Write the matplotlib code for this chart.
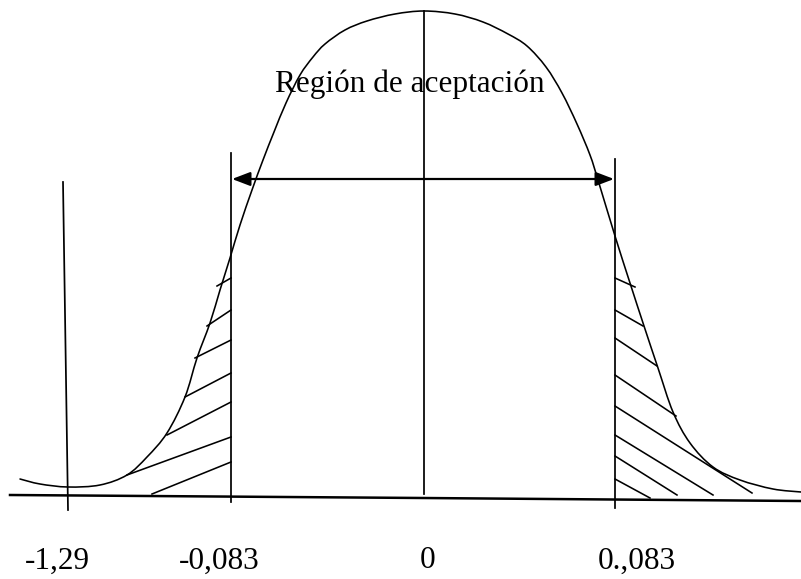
import matplotlib
matplotlib.use("Agg")
import matplotlib.pyplot as plt
from matplotlib.path import Path
from matplotlib.patches import PathPatch

# ---- data (drawing coordinates: pixels, y grows downward) ----
curve_x = [20, 40, 68, 100, 127, 147, 167, 185, 197, 210, 220, 230, 240, 252, 263,
           274, 286, 300, 313, 325, 345, 367, 395, 424, 455, 483, 508, 527, 546,
           562, 577, 590, 598, 615, 630, 644, 658, 673, 690, 713, 740, 773, 801]
curve_y = [479, 484, 487, 485, 475, 457, 433, 397, 358, 323, 290, 258, 225, 190, 160,
           132, 103, 75, 57, 44, 30, 21, 14, 11, 14, 22, 34, 46, 67,
           93, 124, 155, 180, 236, 283, 326, 368, 412, 443, 467, 480, 489, 492]

baseline_x = [10, 423, 801]
baseline_y = [495, 498, 501]

# vertical lines: (x_top, y_top, x_bottom, y_bottom)
vline_x_top = [63, 231, 424, 615]
vline_y_top = [182, 153, 11, 159]
vline_x_bot = [68, 231, 424, 615]
vline_y_bot = [510, 502, 494, 508]

# hatching, left tail
hl_x0 = 231
hl_y0 = [278, 310, 340, 373, 402, 437, 462]
hl_x1 = [217, 207, 195, 185, 167, 127, 152]
hl_y1 = [286, 326, 358, 397, 435, 475, 494]

# hatching, right tail
hr_x0 = 615
hr_y0 = [278, 310, 338, 375, 406, 435, 456, 479]
hr_x1 = [635, 643, 657, 676, 752, 713, 677, 650]
hr_y1 = [287, 326, 366, 416, 493, 495, 495, 498]

arrow_x = [232, 614]
arrow_y = 179

title_text = "Región de aceptación"
title_pos = (410, 84)

tick_labels = ["-1,29", "-0,083", "0", "0.,083"]
tick_label_x = [57, 219, 428, 637]
tick_label_y = 561


def smooth_path(xs, ys):
    """Catmull-Rom through the given points, expressed as cubic Bezier path."""
    pts = list(zip(xs, ys))
    n = len(pts)
    verts = [pts[0]]
    codes = [Path.MOVETO]
    for i in range(n - 1):
        p0 = pts[i - 1] if i > 0 else pts[i]
        p1 = pts[i]
        p2 = pts[i + 1]
        p3 = pts[i + 2] if i + 2 < n else pts[i + 1]
        c1 = (p1[0] + (p2[0] - p0[0]) / 6.0, p1[1] + (p2[1] - p0[1]) / 6.0)
        c2 = (p2[0] - (p3[0] - p1[0]) / 6.0, p2[1] - (p3[1] - p1[1]) / 6.0)
        verts += [c1, c2, p2]
        codes += [Path.CURVE4, Path.CURVE4, Path.CURVE4]
    return Path(verts, codes)


# ---- figure ----
fig = plt.figure(figsize=(8.01, 5.79), dpi=100)
ax = fig.add_axes([0, 0, 1, 1])
ax.set_xlim(0, 801)
ax.set_ylim(579, 0)
ax.axis("off")

lw = 1.15
ax.add_patch(PathPatch(smooth_path(curve_x, curve_y), fill=False,
                       edgecolor="black", lw=lw, joinstyle="round", capstyle="round"))
ax.plot(baseline_x, baseline_y, color="black", lw=1.8)

for xt, yt, xb, yb in zip(vline_x_top, vline_y_top, vline_x_bot, vline_y_bot):
    ax.plot([xt, xb], [yt, yb], color="black", lw=1.25)

for y0, x1, y1 in zip(hl_y0, hl_x1, hl_y1):
    ax.plot([hl_x0, x1], [y0, y1], color="black", lw=lw)
for y0, x1, y1 in zip(hr_y0, hr_x1, hr_y1):
    ax.plot([hr_x0, x1], [y0, y1], color="black", lw=lw)

ax.annotate("", xy=(arrow_x[0], arrow_y), xytext=(arrow_x[1], arrow_y),
            arrowprops=dict(arrowstyle="<|-|>,head_length=1.1,head_width=0.42",
                            color="black", lw=1.6, shrinkA=0, shrinkB=0,
                            mutation_scale=10))

serif = ["Liberation Serif", "DejaVu Serif"]
ax.text(title_pos[0], title_pos[1], title_text, family=serif, fontsize=22.5,
        ha="center", va="center", color="black")

for lab, x in zip(tick_labels, tick_label_x):
    ax.text(x, tick_label_y, lab, family=serif, fontsize=22.5,
            ha="center", va="center", color="black")

fig.savefig("out.png", dpi=100)
